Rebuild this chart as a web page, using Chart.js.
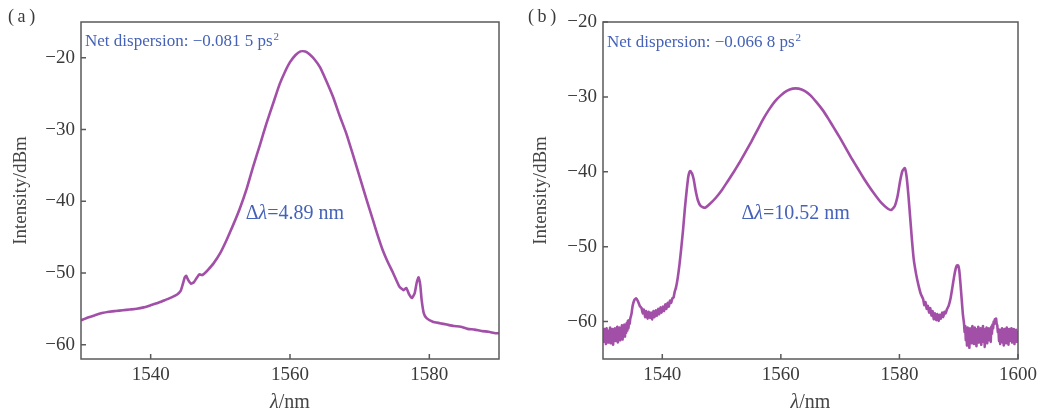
<!DOCTYPE html>
<html>
<head>
<meta charset="utf-8">
<title>Spectra</title>
<script src="https://cdn.jsdelivr.net/npm/chart.js@4.4.1/dist/chart.umd.min.js"></script>
<style>
  html, body { margin: 0; padding: 0; background: #fff; }
  #wrap { position: relative; width: 1047px; height: 415px; }
  #chartA { position: absolute; left: 0; top: 0; }
  #chartB { position: absolute; left: 520px; top: 0; }
</style>
</head>
<body>
<div id="wrap">
  <canvas id="chartA" width="520" height="415"></canvas>
  <canvas id="chartB" width="527" height="415"></canvas>
</div>
<script>
// (a) net dispersion -0.0815 ps^2
const wavelengthA = [
  1530.0, 1531.0, 1532.0, 1533.0, 1534.0, 1535.0, 1536.0, 1537.0, 1538.0, 1539.0,
  1540.0, 1541.0, 1542.0, 1543.0, 1543.8, 1544.3, 1544.6, 1544.9, 1545.1, 1545.4,
  1545.8, 1546.2, 1546.6, 1547.0, 1547.4, 1547.8, 1548.2, 1549.0, 1550.0, 1550.9,
  1551.8, 1552.8, 1553.8, 1554.7, 1555.7, 1556.6, 1557.6, 1558.5, 1559.3, 1560.0,
  1560.8, 1561.5, 1562.2, 1562.8, 1563.5, 1564.3, 1565.2, 1566.2, 1567.1, 1568.1,
  1569.0, 1570.0, 1571.0, 1571.9, 1572.6, 1573.3, 1574.0, 1574.8, 1575.7, 1576.3,
  1576.7, 1577.1, 1577.5, 1577.9, 1578.2, 1578.45, 1578.7, 1578.9, 1579.2, 1579.6,
  1580.5, 1581.5, 1582.5, 1583.5, 1584.5, 1585.5, 1586.5, 1587.5, 1588.5, 1589.5,
  1590.0
];
const intensityA = [
  -56.6, -56.2, -55.9, -55.6, -55.4, -55.3, -55.2, -55.1, -55.0, -54.8,
  -54.5, -54.2, -53.8, -53.4, -53.0, -52.5, -51.6, -50.6, -50.4, -51.0,
  -51.5, -51.3, -50.7, -50.2, -50.3, -50.0, -49.6, -48.7, -47.2, -45.4,
  -43.4, -41.0, -38.2, -35.2, -32.1, -29.2, -26.3, -23.7, -21.9, -20.6,
  -19.6, -19.1, -19.1, -19.5, -20.2, -21.3, -23.2, -25.5, -28.0, -30.6,
  -33.4, -36.6, -39.8, -42.6, -44.8, -46.8, -48.4, -50.0, -51.9, -52.4,
  -52.1, -53.0, -53.5, -52.8, -51.3, -50.6, -51.7, -53.8, -55.6, -56.3,
  -56.8, -57.0, -57.2, -57.4, -57.5, -57.8, -57.9, -58.1, -58.2, -58.4,
  -58.4
];

// (b) net dispersion -0.0668 ps^2
const wavelengthB = [
  1530.0, 1530.1, 1530.2, 1530.3, 1530.4, 1530.5, 1530.6, 1530.7, 1530.8, 1530.9,
  1531.0, 1531.1, 1531.2, 1531.3, 1531.4, 1531.5, 1531.6, 1531.7, 1531.8, 1531.9,
  1532.0, 1532.1, 1532.2, 1532.3, 1532.4, 1532.5, 1532.6, 1532.7, 1532.8, 1532.9,
  1533.0, 1533.1, 1533.2, 1533.3, 1533.4, 1533.5, 1533.6, 1533.7, 1533.8, 1533.9,
  1534.0, 1534.1, 1534.2, 1534.3, 1534.4, 1534.5, 1534.6, 1534.8, 1535.0, 1535.3,
  1535.6, 1535.9, 1536.2, 1536.5, 1536.7, 1536.9, 1537.1, 1537.3, 1537.5, 1537.7,
  1537.9, 1538.1, 1538.3, 1538.5, 1538.7, 1538.9, 1539.1, 1539.3, 1539.5, 1539.7,
  1539.9, 1540.1, 1540.3, 1540.5, 1540.7, 1540.9, 1541.1, 1541.3, 1541.5, 1541.7,
  1541.9, 1542.1, 1542.3, 1542.6, 1542.9, 1543.2, 1543.5, 1543.8, 1544.1, 1544.4,
  1544.7, 1545.0, 1545.3, 1545.6, 1546.0, 1546.5, 1547.2, 1548.0, 1549.0, 1550.0,
  1551.0, 1552.0, 1553.0, 1554.0, 1555.0, 1556.0, 1557.0, 1558.0, 1559.0, 1560.0,
  1561.0, 1562.0, 1563.0, 1564.0, 1565.0, 1566.0, 1567.0, 1568.0, 1569.0, 1570.0,
  1571.0, 1572.0, 1573.0, 1574.0, 1575.0, 1576.0, 1577.0, 1578.0, 1578.6, 1579.2,
  1579.7, 1580.1, 1580.5, 1580.9, 1581.2, 1581.5, 1581.8, 1582.1, 1582.4, 1582.8,
  1583.2, 1583.6, 1584.0, 1584.2, 1584.4, 1584.6, 1584.8, 1585.0, 1585.2, 1585.4,
  1585.6, 1585.8, 1586.0, 1586.2, 1586.4, 1586.6, 1586.8, 1587.0, 1587.2, 1587.4,
  1587.6, 1587.8, 1588.0, 1588.3, 1588.6, 1588.9, 1589.2, 1589.5, 1589.7, 1589.9,
  1590.1, 1590.3, 1590.5, 1590.7, 1590.9, 1591.0, 1591.1, 1591.2, 1591.3, 1591.4,
  1591.5, 1591.6, 1591.7, 1591.8, 1591.9, 1592.0, 1592.1, 1592.2, 1592.3, 1592.4,
  1592.5, 1592.6, 1592.7, 1592.8, 1592.9, 1593.0, 1593.1, 1593.2, 1593.3, 1593.4,
  1593.5, 1593.6, 1593.7, 1593.8, 1593.9, 1594.0, 1594.1, 1594.2, 1594.3, 1594.4,
  1594.5, 1594.6, 1594.7, 1594.8, 1594.9, 1595.0, 1595.1, 1595.2, 1595.3, 1595.4,
  1595.5, 1595.6, 1595.7, 1595.8, 1595.9, 1596.0, 1596.1, 1596.2, 1596.3, 1596.4,
  1596.5, 1596.6, 1596.7, 1596.8, 1596.9, 1597.0, 1597.1, 1597.2, 1597.3, 1597.4,
  1597.5, 1597.6, 1597.7, 1597.8, 1597.9, 1598.0, 1598.1, 1598.2, 1598.3, 1598.4,
  1598.5, 1598.6, 1598.7, 1598.8, 1598.9, 1599.0, 1599.1, 1599.2, 1599.3, 1599.4,
  1599.5, 1599.6, 1599.7, 1599.8, 1599.9, 1600.0
];
const intensityB = [
  -61.3, -62.7, -61.0, -62.2, -61.6, -63.0, -60.9, -62.4, -61.2, -62.8,
  -61.5, -62.1, -60.8, -62.9, -61.3, -62.5, -61.0, -63.1, -61.4, -62.2,
  -60.9, -62.6, -61.2, -62.0, -60.7, -62.8, -61.1, -62.3, -60.8, -62.5,
  -61.0, -62.1, -60.5, -62.4, -60.9, -61.8, -60.4, -62.0, -60.6, -61.5,
  -60.2, -61.2, -59.9, -60.9, -59.8, -60.3, -59.6, -59.0, -57.9, -57.1,
  -56.9, -57.3, -57.9, -58.2, -58.9, -58.4, -59.4, -58.6, -59.6, -58.7,
  -59.5, -58.8, -59.7, -58.6, -59.4, -58.5, -59.2, -58.3, -59.0, -58.1,
  -58.8, -58.0, -58.6, -57.7, -58.3, -57.5, -58.0, -57.2, -57.5, -56.9,
  -56.8, -56.0, -55.5, -54.2, -52.4, -50.2, -47.8, -45.0, -42.6, -40.6,
  -39.9, -40.2, -41.0, -42.4, -43.8, -44.6, -44.8, -44.3, -43.5, -42.5,
  -41.3, -40.1, -38.8, -37.4, -36.0, -34.5, -33.0, -31.7, -30.6, -29.8,
  -29.2, -28.9, -28.9, -29.2, -29.8, -30.7, -31.7, -32.9, -34.2, -35.5,
  -36.9, -38.3, -39.6, -40.9, -42.1, -43.2, -44.2, -44.9, -45.1, -44.6,
  -43.2, -41.3, -39.9, -39.5, -40.6, -43.0, -46.0, -49.0, -51.6, -53.6,
  -55.1, -56.3, -57.0, -57.8, -57.4, -58.3, -57.9, -58.8, -58.2, -59.2,
  -58.6, -59.7, -58.9, -59.8, -59.0, -59.9, -59.1, -59.6, -58.8, -59.4,
  -58.7, -58.9, -58.4, -57.9, -57.0, -55.6, -54.1, -52.9, -52.5, -52.5,
  -53.2, -55.0, -57.0, -59.0, -60.3, -61.4, -60.6, -62.5, -61.0, -63.2,
  -60.8, -62.1, -61.3, -63.5, -60.9, -62.4, -61.1, -62.9, -60.6, -62.2,
  -61.4, -63.0, -60.8, -62.6, -61.2, -63.3, -61.0, -62.3, -60.7, -62.8,
  -61.3, -62.0, -60.9, -63.1, -61.2, -62.4, -60.6, -62.7, -61.1, -63.4,
  -61.0, -62.2, -60.8, -62.9, -61.3, -62.5, -60.9, -62.1, -61.2, -62.7,
  -60.7, -61.6, -60.4, -60.9, -60.0, -60.3, -59.7, -59.9, -59.6, -60.3,
  -60.5, -61.4, -61.0, -62.6, -61.2, -63.0, -61.1, -62.4, -60.9, -62.8,
  -61.4, -63.2, -61.0, -62.5, -61.3, -62.9, -60.8, -62.3, -61.2, -63.1,
  -61.0, -62.6, -61.4, -62.2, -60.9, -62.8, -61.2, -62.4, -61.0, -63.0,
  -61.3, -62.5, -61.1, -62.7, -61.4, -62.0
];

const xTicksA = [1540, 1560, 1580];
const yTicksA = [-60, -50, -40, -30, -20];
const xTicksB = [1540, 1560, 1580, 1600];
const yTicksB = [-60, -50, -40, -30, -20];

const SERIF = '"Liberation Serif", "DejaVu Serif", serif';
const LINE = '#a24fa8';
const NOTE = '#4562b8';
const INK = '#3a3a3a';

function minus(v) {
  return String(v).replace('-', '\u2212');
}

// frame, inward ticks, titles and notes
const decor = {
  id: 'decor',
  afterDraw(chart, args, o) {
    const ctx = chart.ctx;
    const a = chart.chartArea;
    const sx = chart.scales.x, sy = chart.scales.y;
    ctx.save();
    ctx.strokeStyle = '#5a5a5a';
    ctx.lineWidth = 1.5;
    ctx.strokeRect(a.left, a.top, a.right - a.left, a.bottom - a.top);
    ctx.beginPath();
    sx.ticks.forEach(t => {
      const px = sx.getPixelForValue(t.value);
      ctx.moveTo(px, a.bottom);
      ctx.lineTo(px, a.bottom - 5);
    });
    sy.ticks.forEach(t => {
      const py = sy.getPixelForValue(t.value);
      ctx.moveTo(a.left, py);
      ctx.lineTo(a.left + 5, py);
    });
    ctx.stroke();

    ctx.fillStyle = INK;
    ctx.textBaseline = 'middle';
    // panel label
    ctx.font = '18px ' + SERIF;
    ctx.textAlign = 'left';
    ctx.fillText(o.panel, 8, 17);

    // y title
    ctx.save();
    ctx.translate(21, (a.top + a.bottom) / 2);
    ctx.rotate(-Math.PI / 2);
    ctx.textAlign = 'center';
    ctx.fillStyle = '#444';
    ctx.font = '19px ' + SERIF;
    ctx.fillText('Intensity/dBm', 0, 0);
    ctx.restore();

    // x title with italic lambda
    const cx = (a.left + a.right) / 2;
    drawRuns(ctx, [['italic 20px ' + SERIF, '\u03bb'], ['20px ' + SERIF, '/nm']], cx, 403, '#444');

    // dispersion note with superscript
    ctx.fillStyle = NOTE;
    ctx.textAlign = 'left';
    ctx.font = '17px ' + SERIF;
    const base = o.disp;
    ctx.fillText(base, a.left + 4, o.dispY);
    const w = ctx.measureText(base).width;
    ctx.font = '11px ' + SERIF;
    ctx.fillText('2', a.left + 4 + w + 1, o.dispY - 5);

    // spectral width
    const wx = sx.getPixelForValue(o.widthAt[0]);
    const wy = sy.getPixelForValue(o.widthAt[1]);
    drawRuns(ctx, [['20px ' + SERIF, '\u0394'], ['italic 20px ' + SERIF, '\u03bb'], ['20px ' + SERIF, o.width]], wx, wy, NOTE);
    ctx.restore();
  }
};

function drawRuns(ctx, runs, cx, cy, color) {
  let total = 0;
  runs.forEach(r => { ctx.font = r[0]; total += ctx.measureText(r[1]).width; });
  let x = cx - total / 2;
  ctx.fillStyle = color;
  ctx.textAlign = 'left';
  ctx.textBaseline = 'middle';
  runs.forEach(r => {
    ctx.font = r[0];
    ctx.fillText(r[1], x, cy);
    x += ctx.measureText(r[1]).width;
  });
}

function makeChart(id, xs, ys, xr, yr, xt, yt, pad, note) {
  return new Chart(document.getElementById(id), {
    type: 'scatter',
    data: {
      datasets: [{
        data: xs.map((x, i) => ({ x: x, y: ys[i] })),
        showLine: true,
        borderColor: LINE,
        borderWidth: 2.6,
        pointRadius: 0,
        tension: 0.15,
        borderJoinStyle: 'round'
      }]
    },
    options: {
      responsive: false,
      animation: false,
      layout: { padding: { top: 22, right: pad, left: 0, bottom: 0 } },
      plugins: {
        legend: { display: false },
        tooltip: { enabled: false },
        decor: note
      },
      scales: {
        x: {
          type: 'linear', min: xr[0], max: xr[1],
          grid: { display: false, drawTicks: false },
          border: { display: false },
          afterBuildTicks: s => { s.ticks = xt.map(v => ({ value: v })); },
          afterFit: s => { s.height = 56; },
          ticks: { padding: 5, color: INK, font: { family: SERIF, size: 19 }, callback: v => String(v) }
        },
        y: {
          type: 'linear', min: yr[0], max: yr[1],
          grid: { display: false, drawTicks: false },
          border: { display: false },
          afterBuildTicks: s => { s.ticks = yt.map(v => ({ value: v })); },
          afterFit: s => { s.width = note.yw; },
          ticks: { padding: 6, color: INK, font: { family: SERIF, size: 19 }, callback: v => minus(v) }
        }
      }
    },
    plugins: [decor]
  });
}

makeChart('chartA', wavelengthA, intensityA, [1530, 1590], [-62, -15], xTicksA, yTicksA, 21, {
  panel: '(\u2009a\u2009)', disp: 'Net dispersion: \u22120.081 5 ps', dispY: 42,
  width: '=4.89 nm', widthAt: [1560.7, -41.7], yw: 81
});
makeChart('chartB', wavelengthB, intensityB, [1530, 1600], [-65, -20], xTicksB, yTicksB, 29, {
  panel: '(\u2009b\u2009)', disp: 'Net dispersion: \u22120.066 8 ps', dispY: 43,
  width: '=10.52 nm', widthAt: [1562.5, -45.6], yw: 83
});
</script>
</body>
</html>
